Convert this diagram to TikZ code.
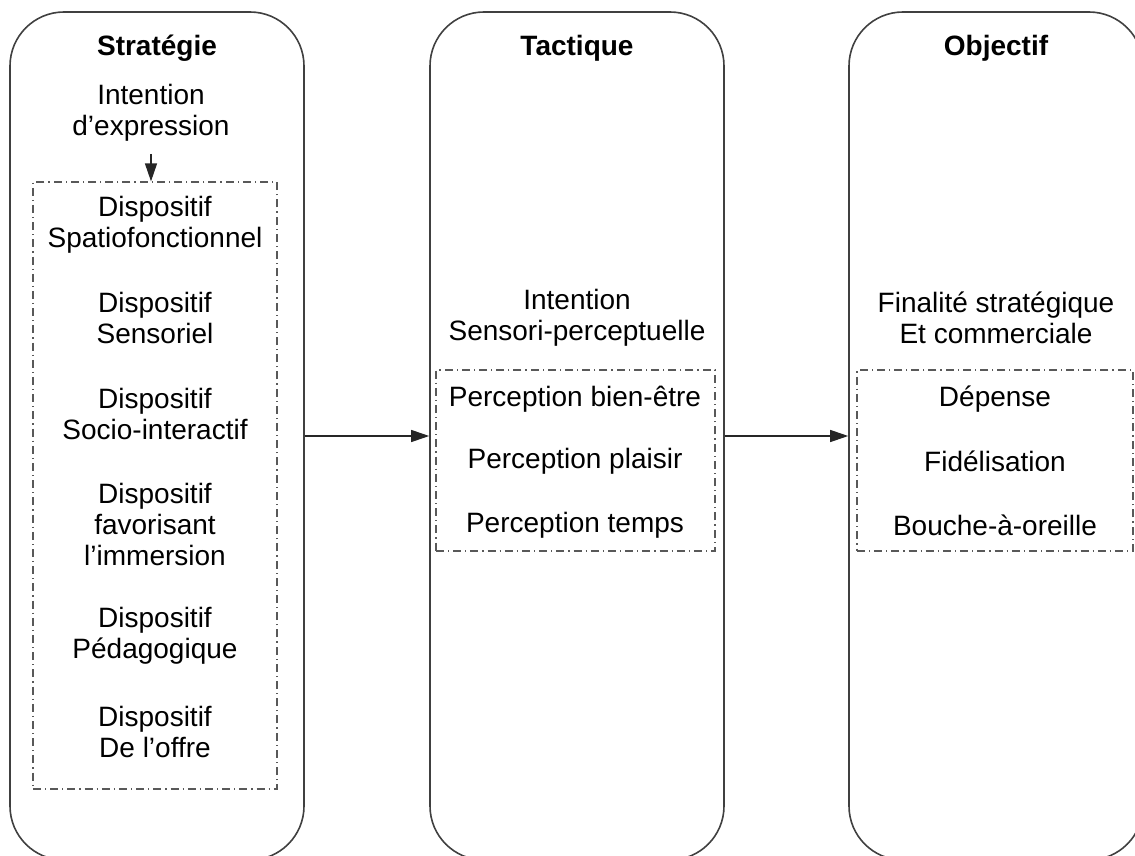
\documentclass[tikz,border=0pt]{standalone}
\usepackage{fontspec}
\setmainfont{Liberation Sans}
\usetikzlibrary{arrows.meta,positioning}

\begin{document}
\begin{tikzpicture}[
  x=0.5pt, y=-0.5pt,
  column/.style={draw=black!75, line width=0.8pt, rounded corners=27pt, minimum width=147pt, minimum height=424pt},
  group/.style={draw=black!65, line width=0.6pt, dash pattern=on 4pt off 2pt on 0.6pt off 2pt},
  txt/.style={font=\fontsize{14}{15.5}\selectfont, align=center, inner sep=0pt},
  head/.style={txt, font=\fontsize{14}{15.5}\selectfont\bfseries},
  arr/.style={-{Triangle[length=9pt,width=6pt]}, black!85, line width=0.6pt}
]
  \useasboundingbox (0,0) rectangle (1135,856);
  \clip (0,0) rectangle (1135,856);

  % the three columns
  \node[column] (strat) at (157,436) {};
  \node[column] (tact) at (577,436) {};
  \node[column] (obj) at (996,436) {};
  \node[head] (strathead) at (157,48) {Stratégie};
  \node[head] (tacthead) at (577,48) {Tactique};
  \node[head] (objhead) at (996,48) {Objectif};

  % strategie
  \node[txt] (intent) at (151,113) {Intention\\d’expression};
  \node[group, minimum width=122pt, minimum height=303.5pt] (stratset) at (155,485.5) {};
  \draw[arr, shorten <=6pt] (intent.south) -- (intent.south |- stratset.north);
  \foreach \y/\name/\lbl in {
    225/spatial/Dispositif\\Spatiofonctionnel,
    318/sensor/Dispositif\\Sensoriel,
    414/social/Dispositif\\Socio-interactif,
    524/immers/Dispositif\\favorisant\\l’immersion,
    636/pedago/Dispositif\\Pédagogique,
    731.5/offre/Dispositif\\De l’offre} {
    \node[txt] (\name) at (155,\y) {\lbl};
  }

  % tactique
  \node[txt] (sensint) at (577,318) {Intention\\Sensori-perceptuelle};
  \node[group, minimum width=139.5pt, minimum height=90.5pt] (tactset) at (575.5,460.5) {};
  \foreach \y/\name/\lbl in {
    399/bienetre/Perception bien-être,
    461/plaisir/Perception plaisir,
    525/temps/Perception temps} {
    \node[txt] (\name) at (575,\y) {\lbl};
  }

  % objectif
  \node[txt] (final) at (996,318) {Finalité stratégique\\Et commerciale};
  \node[group, minimum width=138pt, minimum height=90.5pt] (objset) at (995,460.5) {};
  \foreach \y/\name/\lbl in {
    399/depense/Dépense,
    461/fidel/Fidélisation,
    525/bouche/Bouche-à-oreille} {
    \node[txt] (\name) at (995,\y) {\lbl};
  }

  \draw[arr] (strat.east) -- (tact.west);
  \draw[arr] (tact.east) -- (obj.west);
\end{tikzpicture}
\end{document}
